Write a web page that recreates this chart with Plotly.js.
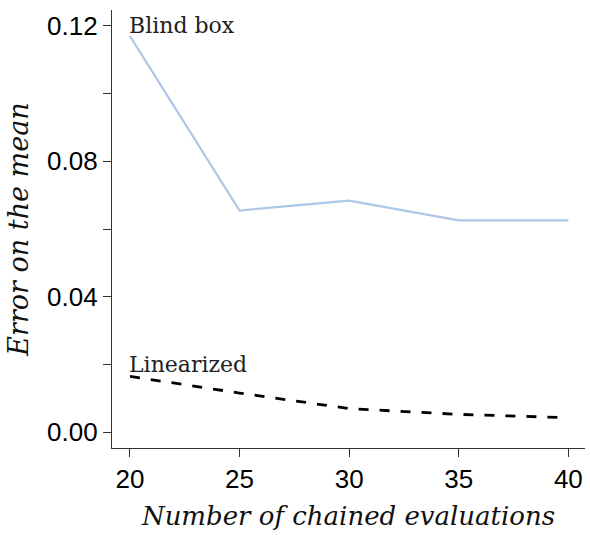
<!DOCTYPE html>
<html><head><meta charset="utf-8">
<script src="https://cdn.plot.ly/plotly-3.0.1.min.js"></script>
<style>html,body{margin:0;padding:0;background:#fff}</style>
</head><body><div id="chart" style="width:590px;height:535px"></div>
<script>
const evaluations = [20, 25, 30, 35, 40];
const blindBox = [0.117, 0.0655, 0.0684, 0.0626, 0.0626];
const linearized = [0.0165, 0.0116, 0.0070, 0.0053, 0.0043];
const yTickVals = [0, 0.02, 0.04, 0.06, 0.08, 0.10, 0.12];
const yTickText = ['0.00', '', '0.04', '', '0.08', '', '0.12'];
const xTickVals = [20, 25, 30, 35, 40];

const traces = [
  {x: evaluations, y: blindBox, mode: 'lines', line: {color: '#aec7e8', width: 2.2}, hoverinfo: 'none'},
  {x: evaluations, y: linearized, mode: 'lines', line: {color: '#000', width: 2.8, dash: '10px,11px'}, hoverinfo: 'none'}
];
const serif = 'DejaVu Serif, Liberation Serif, serif';
const layout = {
  width: 590, height: 535,
  margin: {l: 112, r: 5, t: 10, b: 87},
  paper_bgcolor: '#fff', plot_bgcolor: '#fff',
  showlegend: false,
  font: {family: 'Liberation Sans, Arial, sans-serif', size: 26, color: '#000'},
  xaxis: {
    range: [19.18, 40.76], tickvals: xTickVals, ticks: 'outside', ticklen: 8, tickcolor: '#333',
    showline: true, linecolor: '#333', linewidth: 1.2, showgrid: false, zeroline: false,
    tickfont: {size: 26}, ticklabelstandoff: 0,
    title: {text: 'Number of chained evaluations', font: {family: serif, size: 26, style: 'italic', color: '#111'}, standoff: 13}
  },
  yaxis: {
    range: [-0.00463, 0.1247], tickvals: yTickVals, ticktext: yTickText, ticks: 'outside', ticklen: 8, tickcolor: '#333',
    showline: true, linecolor: '#333', linewidth: 1.2, showgrid: false, zeroline: false,
    tickfont: {size: 26},
    title: {text: 'Error on the mean', font: {family: serif, size: 27, style: 'italic', color: '#111'}, standoff: 10}
  },
  annotations: [
    {x: 20, y: 0.12, xref: 'x', yref: 'y', text: 'Blind box', showarrow: false, xanchor: 'left', yanchor: 'middle', xshift: -3, font: {family: serif, size: 22, color: '#222'}},
    {x: 20, y: 0.0200, xref: 'x', yref: 'y', text: 'Linearized', showarrow: false, xanchor: 'left', yanchor: 'middle', xshift: -3, font: {family: serif, size: 22, color: '#222'}}
  ]
};
Plotly.newPlot('chart', traces, layout, {displayModeBar: false, staticPlot: true});
</script></body></html>
